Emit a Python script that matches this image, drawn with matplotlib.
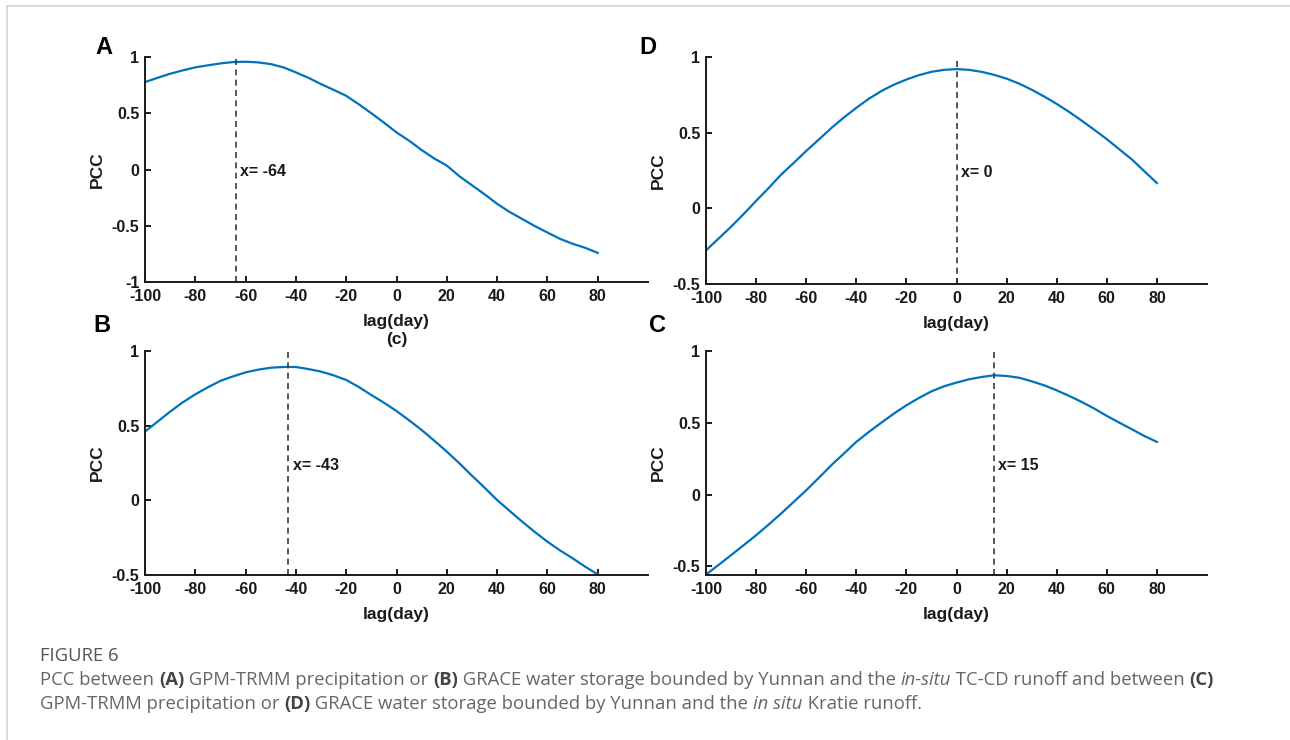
import matplotlib
matplotlib.use("Agg")
import matplotlib.pyplot as plt
from matplotlib.lines import Line2D

W, H = 1290, 740

# lag (day) axis shared by all four panels, every 5 days
lags = list(range(-100, 81, 5))

# PCC values
pcc_a = [0.777, 0.815, 0.851, 0.881, 0.908, 0.926, 0.943, 0.955, 0.958, 0.952,
         0.937, 0.908, 0.863, 0.815, 0.759, 0.708, 0.655, 0.580, 0.500, 0.417,
         0.330, 0.256, 0.173, 0.098, 0.035, -0.060, -0.140, -0.220, -0.305, -0.378,
         -0.440, -0.503, -0.560, -0.616, -0.660, -0.696, -0.741]
pcc_d = [-0.278, -0.200, -0.122, -0.038, 0.049, 0.134, 0.223, 0.300, 0.379, 0.454,
         0.530, 0.600, 0.664, 0.724, 0.775, 0.817, 0.851, 0.880, 0.902, 0.915,
         0.920, 0.915, 0.902, 0.882, 0.857, 0.824, 0.784, 0.739, 0.690, 0.637,
         0.579, 0.519, 0.457, 0.390, 0.323, 0.245, 0.167]
pcc_b = [0.460, 0.527, 0.594, 0.656, 0.710, 0.757, 0.800, 0.830, 0.857, 0.875,
         0.888, 0.893, 0.893, 0.879, 0.862, 0.837, 0.806, 0.759, 0.705, 0.654,
         0.598, 0.536, 0.471, 0.400, 0.326, 0.248, 0.165, 0.085, 0.002, -0.071,
         -0.143, -0.212, -0.277, -0.335, -0.388, -0.444, -0.496]
pcc_c = [-0.557, -0.490, -0.422, -0.353, -0.283, -0.209, -0.132, -0.051, 0.030, 0.116,
         0.204, 0.285, 0.367, 0.436, 0.501, 0.564, 0.622, 0.673, 0.719, 0.754,
         0.780, 0.803, 0.819, 0.831, 0.826, 0.814, 0.789, 0.761, 0.726, 0.687,
         0.645, 0.599, 0.548, 0.501, 0.455, 0.408, 0.367]

peak_lags = {"A": -64, "D": 0, "B": -43, "C": 15}
ylims = {"A": (-1, 1), "D": (-0.5, 1), "B": (-0.5, 1), "C": (-0.56, 1)}
yticks = {"A": [-1, -0.5, 0, 0.5, 1], "D": [-0.5, 0, 0.5, 1],
          "B": [-0.5, 0, 0.5, 1], "C": [-0.5, 0, 0.5, 1]}
xticks = [-100, -80, -60, -40, -20, 0, 20, 40, 60, 80]

caption_title = "FIGURE 6"
caption_lines = [
    [("PCC between ", "n"), ("(A)", "b"), (" GPM-TRMM precipitation or ", "n"), ("(B)", "b"),
     (" GRACE water storage bounded by Yunnan and the ", "n"), ("in-situ", "i"),
     (" TC-CD runoff and between ", "n"), ("(C)", "b")],
    [("GPM-TRMM precipitation or ", "n"), ("(D)", "b"),
     (" GRACE water storage bounded by Yunnan and the ", "n"), ("in situ", "i"),
     (" Kratie runoff.", "n")],
]

LINE = "#0072BD"
INK = "#1a1a1a"
FONT = ["Liberation Sans", "DejaVu Sans"]

fig = plt.figure(figsize=(W / 100, H / 100), dpi=100)


def fx(x):
    return x / W


def fy(y):
    return 1 - y / H


# card border (top and left)
fig.add_artist(Line2D([fx(7), 1], [fy(6), fy(6)], color="#d4d4d4", lw=1.2))
fig.add_artist(Line2D([fx(7), fx(7)], [fy(6), 0], color="#d4d4d4", lw=1.2))

# axes boxes in pixels: left, top, right, bottom
boxes = {"A": (145, 57, 648, 282), "D": (706, 57, 1207, 284),
         "B": (145, 351, 648, 575), "C": (706, 351, 1207, 575)}
data = {"A": pcc_a, "D": pcc_d, "B": pcc_b, "C": pcc_c}
letter_pos = {"A": (104, 48), "D": (648, 48), "B": (102, 325), "C": (657, 325)}

for key in ["A", "D", "B", "C"]:
    l, t, r, b = boxes[key]
    ax = fig.add_axes([fx(l), fy(b), (r - l) / W, (b - t) / H])
    ax.plot(lags, data[key], color=LINE, lw=1.6)
    xv = peak_lags[key]
    ax.axvline(xv, color="#3a3a3a", lw=1.2, dashes=(3.6, 2.6))
    ax.annotate(f"x= {xv}", xy=(xv, 0.49), xycoords=("data", "axes fraction"),
                xytext=(3, 0), textcoords="offset points", ha="left", va="center",
                fontsize=11.5, fontweight="bold", family=FONT, color=INK)
    ax.set_xlim(-100, 100)
    ax.set_ylim(*ylims[key])
    ax.set_xticks(xticks)
    ax.set_xticklabels([str(v) for v in xticks])
    ax.set_yticks(yticks[key])
    ax.set_yticklabels([f"{v:g}" for v in yticks[key]])
    for s in ["top", "right"]:
        ax.spines[s].set_visible(False)
    for s in ["left", "bottom"]:
        ax.spines[s].set_linewidth(1.4)
        ax.spines[s].set_color(INK)
    ax.tick_params(direction="in", length=4, width=1.4, color=INK, labelsize=11.5,
                   labelcolor=INK)
    ax.tick_params(axis="x", pad=5)
    ax.tick_params(axis="y", pad=4)
    for lab in ax.get_xticklabels() + ax.get_yticklabels():
        lab.set_fontweight("bold")
        lab.set_family(FONT)
    xl = "lag(day)\n(c)" if key == "A" else "lag(day)"
    ax.set_xlabel(xl, fontsize=12.5, fontweight="bold", family=FONT, color=INK,
                  labelpad=7, linespacing=1.25)
    ax.set_ylabel("PCC", fontsize=12.5, fontweight="bold", family=FONT, color=INK,
                  labelpad=5)
    lx, ly = letter_pos[key]
    fig.text(fx(lx), fy(ly), key, fontsize=17, fontweight="bold", family=FONT,
             color="black", ha="center", va="center")

# caption
cap_font = ["Open Sans", "DejaVu Sans"]
fig.text(fx(40), fy(656), caption_title, fontsize=13.3, family=cap_font,
         color="#555555", ha="left", va="center")

renderer = fig.canvas.get_renderer()
line_y = [680, 704]
for segs, yy in zip(caption_lines, line_y):
    x = fx(40)
    for txt, st in segs:
        kw = dict(fontsize=13.3, family=cap_font, ha="left", va="center", color="#666666")
        if st == "b":
            kw["fontweight"] = "bold"
            kw["color"] = "#444444"
        elif st == "i":
            kw["fontstyle"] = "italic"
        t = fig.text(x, fy(yy), txt, **kw)
        bb = t.get_window_extent(renderer)
        x += bb.width / W

fig.savefig("out.png", dpi=100)
